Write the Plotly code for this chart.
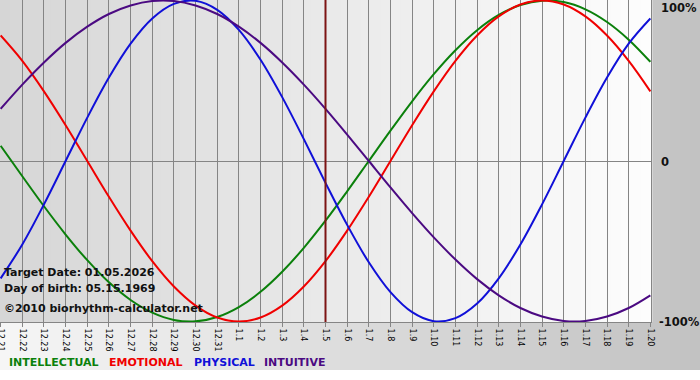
import plotly.graph_objects as go

days = ["12.21", "12.22", "12.23", "12.24", "12.25", "12.26", "12.27", "12.28", "12.29", "12.30", "12.31",
        "1.1", "1.2", "1.3", "1.4", "1.5", "1.6", "1.7", "1.8", "1.9", "1.10",
        "1.11", "1.12", "1.13", "1.14", "1.15", "1.16", "1.17", "1.18", "1.19", "1.20"]

intellectual = [0.095, -0.095, -0.282, -0.458, -0.618, -0.756, -0.866, -0.945, -0.990, -0.999, -0.972,
                -0.910, -0.815, -0.690, -0.541, -0.372, -0.189, 0.0, 0.189, 0.372, 0.541,
                0.690, 0.815, 0.910, 0.972, 0.999, 0.990, 0.945, 0.866, 0.756, 0.618]
emotional = [0.782, 0.624, 0.434, 0.223, 0.0, -0.223, -0.434, -0.624, -0.782, -0.901, -0.975,
             -1.0, -0.975, -0.901, -0.782, -0.624, -0.434, -0.223, 0.0, 0.223, 0.434,
             0.624, 0.782, 0.901, 0.975, 1.0, 0.975, 0.901, 0.782, 0.624, 0.434]
physical = [-0.731, -0.520, -0.270, 0.0, 0.270, 0.520, 0.731, 0.888, 0.979, 0.998, 0.942,
            0.817, 0.631, 0.398, 0.136, -0.136, -0.398, -0.631, -0.817, -0.942, -0.998,
            -0.979, -0.888, -0.731, -0.520, -0.270, 0.0, 0.270, 0.520, 0.731, 0.888]
intuitive = [0.325, 0.476, 0.614, 0.736, 0.837, 0.916, 0.969, 0.997, 0.997, 0.969, 0.916,
             0.837, 0.736, 0.614, 0.476, 0.325, 0.165, 0.0, -0.165, -0.325, -0.476,
             -0.614, -0.736, -0.837, -0.916, -0.969, -0.997, -0.997, -0.969, -0.916, -0.837]

target_index = 15  # 1.5

series = [
    ("INTELLECTUAL", intellectual, "#0b800b"),
    ("EMOTIONAL", emotional, "#f00000"),
    ("PHYSICAL", physical, "#1010d8"),
    ("INTUITIVE", intuitive, "#4b0a82"),
]

W, H = 700, 380
ML, MR, MT, MB = 0, 49, 0, 58
PW, PH = W - ML - MR, H - MT - MB
FONT = "DejaVu Sans"

x = list(range(len(days)))
fig = go.Figure()
for name, vals, col in series:
    fig.add_trace(go.Scatter(x=x, y=vals, mode="lines", name=name,
                             line=dict(color=col, width=2, shape="spline", smoothing=1.0),
                             hoverinfo="skip", showlegend=False))


def px_x(p):
    return (p - ML) / PW


def px_y(p):
    return (PH + MT - p) / PH


def grey(v):
    v = int(round(v))
    return f"rgb({v},{v},{v})"


shapes = []
# outer background gradient (white-ish left to grey right)
N = 70
for k in range(N):
    a, b = k * W / N, (k + 1) * W / N
    c = 246 + (194 - 246) * (k + 0.5) / N
    shapes.append(dict(type="rect", xref="paper", yref="paper", x0=px_x(a), x1=px_x(b + 0.5),
                       y0=px_y(370), y1=px_y(0), fillcolor=grey(c), line=dict(width=0), layer="below"))
# plot area gradient (grey left to white right)
N2 = 65
for k in range(N2):
    c = 214 + (253 - 214) * (k + 0.5) / N2
    shapes.append(dict(type="rect", xref="x domain", yref="y domain", x0=k / N2, x1=(k + 1) / N2 + 0.002,
                       y0=0, y1=1, fillcolor=grey(c), line=dict(width=0), layer="below"))
# target date line
shapes.append(dict(type="line", xref="x", yref="y domain", x0=target_index, x1=target_index,
                   y0=0, y1=1, line=dict(color="#7d1414", width=2), layer="above"))

annotations = []
for txt, py in [("Target Date: 01.05.2026", 272), ("Day of birth: 05.15.1969", 288),
                ("©2010 biorhythm-calculator.net", 308)]:
    annotations.append(dict(text=txt, xref="paper", yref="paper", x=px_x(2), y=px_y(py),
                            xanchor="left", yanchor="middle", showarrow=False,
                            font=dict(family=FONT, size=11, color="#111111", weight="bold")))
for txt, px0, py in [("100%", 659, 8), ("0", 659, 162), ("-100%", 657, 322)]:
    annotations.append(dict(text=txt, xref="paper", yref="paper", x=px_x(px0), y=px_y(py),
                            xanchor="left", yanchor="middle", showarrow=False,
                            font=dict(family=FONT, size=11.5, color="#111111", weight="bold")))
for (name, vals, col), px0 in zip(series, [7, 107, 192, 262]):
    annotations.append(dict(text=name, xref="paper", yref="paper", x=px_x(px0), y=px_y(362),
                            xanchor="left", yanchor="middle", showarrow=False,
                            font=dict(family=FONT, size=11, color=col, weight="bold")))

fig.update_layout(
    width=W, height=H, margin=dict(l=ML, r=MR, t=MT, b=MB, pad=0, autoexpand=False),
    paper_bgcolor="white", plot_bgcolor="#e8e8e8",
    shapes=shapes, annotations=annotations, showlegend=False,
    xaxis=dict(range=[-0.03, 30.03], tickvals=x, ticktext=days, tickangle=90, automargin=False,
               tickfont=dict(family=FONT, size=8, color="#000000"), ticklabeloverflow="allow",
               showgrid=True, gridcolor="#858585", gridwidth=1, zeroline=False,
               showline=True, linecolor="#858585", linewidth=1, mirror=True,
               ticks="outside", ticklen=4, tickcolor="#858585", fixedrange=True),
    yaxis=dict(range=[-1.0031, 1.0031], tickvals=[-1, 0, 1], showticklabels=False, automargin=False,
               showgrid=True, gridcolor="#858585", gridwidth=1, zeroline=False,
               showline=True, linecolor="#858585", linewidth=1, mirror=True,
               ticks="", fixedrange=True),
)

fig.write_html("out.html", config={"displayModeBar": False},
               post_script="document.body.style.margin='0';document.body.style.overflow='hidden';")
